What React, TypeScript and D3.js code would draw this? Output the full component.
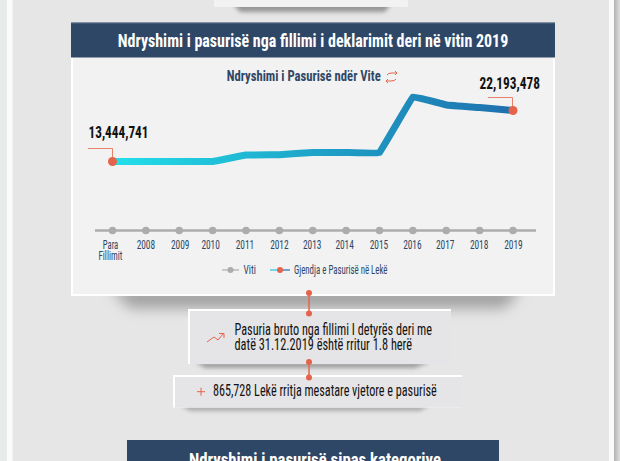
import React from "react";
import * as d3 from "d3";

const categories = ["Para Fillimit", "2008", "2009", "2010", "2011", "2012", "2013", "2014", "2015", "2016", "2017", "2018", "2019"];
const wealth = [13444741, 13444741, 13444741, 13444741, 14560000, 14600000, 15000000, 15000000, 15000000, 24510000, 23140000, 22700000, 22193478];
const yearLevel = categories.map(() => 0);
const labelNudge = [-2, 0, 1, -2, -1, 0, -0.5, -1.5, -0.5, -0.5, -1, -0.5, 0.5];
const FONT = "'Liberation Sans Narrow', 'Roboto Condensed', Roboto, 'Liberation Sans', sans-serif";
const NAVY = "#2e4766";
const RED = "#e4644b";

const x = d3.scalePoint<string>().domain(categories).range([112.5, 513]);
const y = d3.scaleLinear().domain([0, 13444741, 22193478]).range([230, 161.5, 110.5]);
const line = d3.line<number>().x((_, i) => x(categories[i])!).y(d => y(d)).curve(d3.curveCardinal.tension(0.88));

function T({ x: tx, y: ty, w, size, fill, anchor = "start", weight = 400, children }: any) {
  return (
    <text x={tx} y={ty} fontSize={size} fill={fill} textAnchor={anchor} fontWeight={weight} fontFamily={FONT}
      textLength={w} lengthAdjust="spacingAndGlyphs">{children}</text>
  );
}

export default function App() {
  return (
    <svg width={620} height={461} style={{ position: "absolute", left: 0, top: 0, display: "block" }}>
      <defs>
        <linearGradient id="lg" gradientUnits="userSpaceOnUse" x1={112} x2={513} y1={0} y2={0}>
          <stop offset="0" stopColor="#22e0ea" />
          <stop offset="0.5" stopColor="#1ea4c8" />
          <stop offset="1" stopColor="#1f6fae" />
        </linearGradient>
        <linearGradient id="edge" x1="0" x2="1" y1="0" y2="0">
          <stop offset="0" stopColor="#b4b4b4" />
          <stop offset="1" stopColor="#dedede" />
        </linearGradient>
        <filter id="b10" x="-30%" y="-100%" width="160%" height="300%"><feGaussianBlur stdDeviation="7" /></filter>
        <filter id="b4" x="-30%" y="-200%" width="160%" height="500%"><feGaussianBlur stdDeviation="2" /></filter>
      </defs>
      <rect width={620} height={461} fill="#e6e6e6" />
      <rect x={0} y={0} width={7} height={461} fill="#e9ebeb" />
      <rect x={7} y={0} width={5.5} height={461} fill="#fbfbfb" />
      <rect x={609} y={0} width={5} height={461} fill="#fbfbfb" />
      <rect x={614} y={0} width={6} height={461} fill="url(#edge)" />

      {/* top card remnant */}
      <path d="M232,2 H392 L385,12 H240 Z" fill="#555" opacity={0.55} filter="url(#b4)" />
      <rect x={214} y={0} width={194} height={7} fill="#f2f2f2" />

      {/* panel */}
      <path d="M110,288 H522 L505,308 H130 Z" fill="#666" opacity={0.55} filter="url(#b10)" />
      <rect x={71} y={57} width={484} height={239} fill="#ffffff" />
      <rect x={73} y={57} width={480} height={237} fill="#f2f2f2" />
      <rect x={71} y={22.5} width={484} height={35} fill={NAVY} />
      <rect x={71} y={22.5} width={484} height={0.8} fill="#7288a2" />
      <T x={313} y={47} w={390.5} size={19} fill="#fff" anchor="middle" weight={700}>Ndryshimi i pasurisë nga fillimi i deklarimit deri në vitin 2019</T>
      <T x={303.7} y={81} w={154} size={15} fill={NAVY} anchor="middle" weight={700}>Ndryshimi i Pasurisë ndër Vite</T>
      <g fill="none" stroke={RED} strokeWidth={1}>
        <path d="M387,75 Q388,73 392,73 L397,73 M395,71 L397,73 L395,75" />
        <path d="M396,79 Q395,81 391,81 L386,81 M388,79 L386,81 L388,83" />
      </g>

      {/* x axis */}
      <line x1={95} x2={536} y1={230.5} y2={230.5} stroke="#acacac" strokeWidth={2.5} />
      {yearLevel.map((v, i) => (
        <circle key={i} cx={x(categories[i])!} cy={y(v) + 0.5} r={3.8} fill="#acacac" />
      ))}
      {categories.map((c, i) => {
        const cx = x(c)! + labelNudge[i];
        if (i === 0) return (
          <g key={c}>
            <T x={cx} y={249} w={15.5} size={12} fill={NAVY} anchor="middle">Para</T>
            <T x={cx} y={260} w={24} size={12} fill={NAVY} anchor="middle">Fillimit</T>
          </g>
        );
        return <T key={c} x={cx} y={249} w={18.5} size={12} fill={NAVY} anchor="middle">{c}</T>;
      })}

      {/* wealth line */}
      <path d={line(wealth)!} fill="none" stroke="url(#lg)" strokeWidth={7} strokeLinejoin="round" />
      <circle cx={x(categories[0])!} cy={y(wealth[0])} r={4.5} fill={RED} />
      <circle cx={x(categories[12])!} cy={y(wealth[12])} r={4.5} fill={RED} />
      <path d="M88,148.5 H112.5 V158" fill="none" stroke={RED} strokeWidth={0.8} />
      <path d="M488,97.5 H512.5 V107" fill="none" stroke={RED} strokeWidth={0.8} />
      <T x={88.5} y={138.3} w={60} size={17} fill="#111" weight={700}>13,444,741</T>
      <T x={479.5} y={89.3} w={60.5} size={17} fill="#111" weight={700}>22,193,478</T>

      {/* legend */}
      <line x1={222} x2={239} y1={270} y2={270} stroke="#acacac" strokeWidth={1.2} />
      <circle cx={230.5} cy={270} r={3} fill="#acacac" />
      <T x={243.5} y={274.3} w={12.5} size={12} fill={NAVY}>Viti</T>
      <path d="M270,270 H280" stroke="#22c5dc" strokeWidth={1.2} />
      <path d="M280,270 H290" stroke="#1f6fae" strokeWidth={1.2} />
      <circle cx={280} cy={270} r={3} fill={RED} />
      <T x={294} y={274.3} w={93.5} size={12} fill={NAVY}>Gjendja e Pasurisë në Lekë</T>

      {/* card 1 */}
      <path d="M195,362 H430 L415,368 H205 Z" fill="#555" opacity={0.5} filter="url(#b4)" />
      <rect x={188} y={309} width={263} height={55} fill="#fff" />
      <rect x={190} y={311} width={261} height={53} fill="#e5e4e6" />
      {/* card 2 */}
      <path d="M180,405 H430 L420,411 H190 Z" fill="#555" opacity={0.4} filter="url(#b4)" />
      <rect x={173} y={375} width={289} height={32.5} fill="#fff" />
      <rect x={175} y={377} width={287} height={30.5} fill="#e5e4e6" />

      {/* connectors */}
      <g stroke={RED} fill={RED}>
        <line x1={309} x2={309} y1={293} y2={313.5} strokeWidth={1.5} />
        <circle cx={309} cy={293} r={3} stroke="none" />
        <circle cx={309} cy={313.5} r={3} stroke="none" />
        <line x1={309} x2={309} y1={362} y2={377.5} strokeWidth={1.5} />
        <circle cx={309} cy={362} r={3} stroke="none" />
        <circle cx={309} cy={377.5} r={3} stroke="none" />
      </g>
      <path d="M207,342 L214,337 L218,340 L223,334 M219,333.5 H224 V338" fill="none" stroke={RED} strokeWidth={1} />
      <T x={234.5} y={335} w={197.5} size={16} fill="#111">Pasuria bruto nga fillimi I detyrës deri me</T>
      <T x={234.5} y={350} w={177.5} size={16} fill="#111">datë 31.12.2019 është rritur 1.8 herë</T>
      <path d="M197,391.7 H205 M201,387.7 V395.7" stroke={RED} strokeWidth={1} />
      <T x={213} y={396} w={223.7} size={16} fill="#111">865,728 Lekë rritja mesatare vjetore e pasurisë</T>

      {/* next header */}
      <rect x={127} y={440} width={372} height={21} fill={NAVY} />
      <T x={315} y={466} w={252} size={19} fill="#fff" anchor="middle" weight={700}>Ndryshimi i pasurisë sipas kategorive</T>
    </svg>
  );
}
